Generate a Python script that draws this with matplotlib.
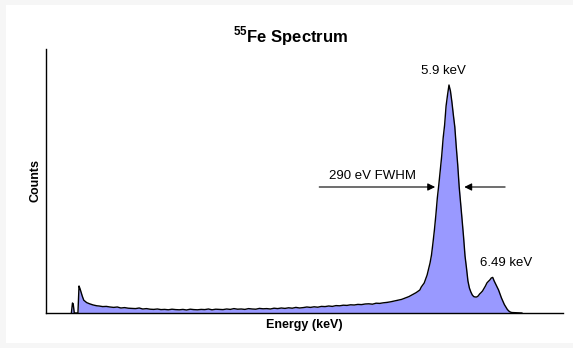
#!/usr/bin/env python3
"""Draw the 55Fe pulse-height spectrum with the K-alpha / K-beta lines marked."""

import matplotlib
matplotlib.use('Agg')
import matplotlib.pyplot as plt
from matplotlib.patches import Rectangle

plt.rcParams['font.family'] = ['Liberation Sans', 'DejaVu Sans']
plt.rcParams['mathtext.fontset'] = 'custom'
plt.rcParams['mathtext.rm'] = 'Liberation Sans'
plt.rcParams['mathtext.bf'] = 'Liberation Sans:bold'

# spectrum: energy (keV) and counts per channel
energy_kev = [
	0.72, 0.735, 0.745, 0.76, 0.81, 0.825, 0.84, 0.87, 0.89, 0.93, 0.97, 1.02, 1.07,
	1.10, 1.15, 1.20, 1.25, 1.30, 1.35, 1.40, 1.45, 1.50, 1.55, 1.60, 1.65, 1.70,
	1.75, 1.80, 1.85, 1.90, 1.95, 2.00, 2.05, 2.10, 2.15, 2.20, 2.25, 2.30, 2.35,
	2.40, 2.45, 2.50, 2.55, 2.60, 2.65, 2.70, 2.75, 2.80, 2.85, 2.90, 2.95, 3.00,
	3.05, 3.10, 3.15, 3.20, 3.25, 3.30, 3.35, 3.40, 3.45, 3.50, 3.55, 3.60, 3.65,
	3.70, 3.75, 3.80, 3.85, 3.90, 3.95, 4.00, 4.05, 4.10, 4.15, 4.20, 4.25, 4.30,
	4.35, 4.40, 4.45, 4.50, 4.55, 4.60, 4.65, 4.70, 4.75, 4.80, 4.85, 4.90, 4.95,
	5.00, 5.05, 5.10, 5.15, 5.20, 5.25, 5.30, 5.35, 5.40, 5.45,
	5.50, 5.52, 5.54, 5.56, 5.58, 5.60, 5.62, 5.64, 5.66, 5.68, 5.70, 5.72, 5.74,
	5.76, 5.78, 5.80, 5.82, 5.84, 5.86, 5.88, 5.90, 5.92, 5.94, 5.96, 5.98, 6.00,
	6.02, 6.04, 6.06, 6.08, 6.10, 6.12, 6.14, 6.16, 6.18, 6.20, 6.22, 6.24, 6.26,
	6.28, 6.30, 6.32, 6.34, 6.36, 6.38, 6.40, 6.42, 6.44, 6.46, 6.48, 6.50, 6.52,
	6.54, 6.56, 6.58, 6.60, 6.62, 6.64, 6.66, 6.68, 6.70, 6.72, 6.74, 6.76, 6.80,
	6.90,
]
counts = [
	0, 250, 230, 0, 0, 675, 600, 420, 320, 260, 230, 200, 180,
	175, 160, 165, 150, 140, 150, 125, 135, 120, 115, 110, 125, 100,
	110, 95, 90, 100, 85, 90, 80, 95, 85, 80, 90, 75, 95,
	85, 80, 90, 85, 100, 80, 95, 90, 85, 100, 90, 110, 95,
	100, 90, 110, 100, 95, 115, 105, 110, 100, 120, 110, 125, 115,
	130, 120, 140, 125, 135, 150, 140, 155, 145, 165, 160, 175, 165,
	185, 180, 195, 190, 205, 200, 215, 210, 225, 230, 220, 245, 240,
	255, 265, 280, 300, 320, 340, 375, 410, 460, 510,
	575, 650, 700, 750, 850, 950, 1100, 1250, 1450, 1750, 2075, 2450, 2875,
	3200, 3550, 3925, 4375, 4700, 5175, 5450, 5700, 5550, 5275, 4950, 4650, 4150,
	3700, 3150, 2750, 2325, 1900, 1425, 1125, 800, 625, 525, 450, 410, 400,
	400, 425, 475, 510, 550, 610, 675, 750, 790, 825, 875, 890, 800,
	725, 650, 575, 475, 375, 290, 210, 150, 90, 50, 25, 12, 8,
	0,
]

# labelled lines (keV) and the FWHM marker
line_kalpha = 5.9
line_kbeta = 6.49
fwhm_text = '290 eV FWHM'

fig = plt.figure(figsize=(5.73, 3.48), dpi=100, facecolor='#f6f6f6')
fig.patches.append(Rectangle((6 / 573, 5 / 348), 567 / 573, 338 / 348,
							 transform=fig.transFigure, facecolor='white',
							 edgecolor='none', zorder=-5))

ax = fig.add_axes([46 / 573, 35 / 348, 517 / 573, 264 / 348])
ax.set_facecolor('white')
ax.fill_between(energy_kev, counts, 0, color='#9999ff', lw=0)
ax.plot(energy_kev, counts, color='black', lw=1.0)

ax.set_xlim(0.372, 7.464)
ax.set_ylim(0, 6600)
for side in ('top', 'right'):
	ax.spines[side].set_visible(False)
for side in ('left', 'bottom'):
	ax.spines[side].set_linewidth(1.0)
ax.set_xticks([])
ax.set_yticks([])

ax.set_xlabel('Energy (keV)', fontsize=9, fontweight='bold', labelpad=4)
ax.set_ylabel('Counts', fontsize=9, fontweight='bold', labelpad=3)
fig.text(291 / 573, 1 - 36 / 348, r'$^{\mathbf{55}}$Fe Spectrum',
		 fontsize=12, fontweight='bold', ha='center', va='center')

# peak labels
peak_a = max(c for e, c in zip(energy_kev, counts) if abs(e - line_kalpha) < 0.05)
peak_b = max(c for e, c in zip(energy_kev, counts) if abs(e - line_kbeta) < 0.05)
ax.annotate(f'{line_kalpha:g} keV', xy=(line_kalpha, peak_a), xytext=(-4, 6),
			textcoords='offset points', ha='center', va='bottom', fontsize=9.5)
ax.annotate(f'{line_kbeta:g} keV', xy=(line_kbeta, peak_b), xytext=(10, 6),
			textcoords='offset points', ha='center', va='bottom', fontsize=9.5)

# FWHM arrows pointing in at the half-maximum level
half = peak_a / 2 + 300
arrow = dict(arrowstyle='-|>', color='black', lw=0.8, mutation_scale=11,
			 shrinkA=0, shrinkB=0)
ax.annotate('', xy=(line_kalpha - 0.19, half), xytext=(line_kalpha - 1.78, half),
			arrowprops=arrow)
ax.annotate('', xy=(line_kalpha + 0.21, half), xytext=(line_kalpha + 0.77, half),
			arrowprops=arrow)
ax.text(line_kalpha - 1.05, half + 120, fwhm_text, ha='center', va='bottom',
		fontsize=9.5)

fig.savefig('out.png', dpi=100, facecolor=fig.get_facecolor())
